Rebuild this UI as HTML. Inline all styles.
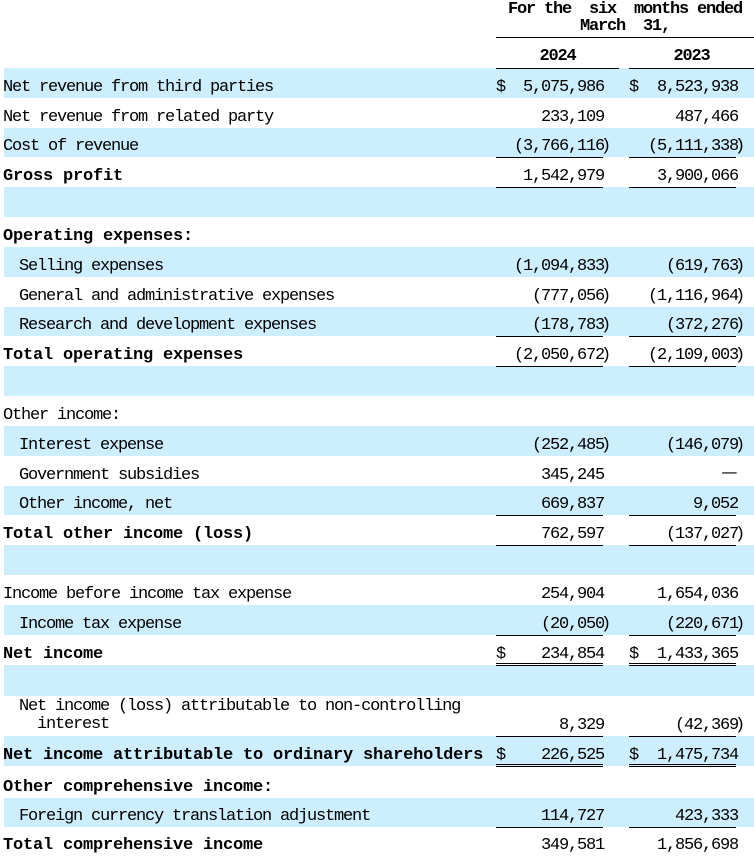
<!DOCTYPE html>
<html><head><meta charset="utf-8"><style>
html,body{margin:0;padding:0}
body{width:754px;height:856px;position:relative;overflow:hidden;background:#fff;font-family:"Liberation Mono","Noto Sans CJK SC",monospace;font-size:17px;letter-spacing:-1.2px;line-height:20px;color:#000}
.b{position:absolute;left:4px;right:0;background:#cceeff}
.t{position:absolute;white-space:pre}
.i{left:19px}
.o{left:3px}
.k{font-weight:bold;letter-spacing:-0.2px}
.l{position:absolute;height:1px;background:#000}
.c1{position:absolute;right:150px;white-space:pre;text-align:right}
.c2{position:absolute;right:16px;white-space:pre;text-align:right}
.p{margin-left:-3px;margin-right:-6px}
.d1{position:absolute;left:496px;white-space:pre}
.d2{position:absolute;left:629px;white-space:pre}
.h{position:absolute;white-space:pre;text-align:center;font-weight:bold;letter-spacing:-1.2px}
</style></head><body>

<!-- blue bands -->
<div class="b" style="top:68px;height:30px"></div>
<div class="b" style="top:128px;height:29px"></div>
<div class="b" style="top:187px;height:30px"></div>
<div class="b" style="top:247px;height:30px"></div>
<div class="b" style="top:307px;height:29px"></div>
<div class="b" style="top:366px;height:30px"></div>
<div class="b" style="top:426px;height:30px"></div>
<div class="b" style="top:486px;height:29px"></div>
<div class="b" style="top:545px;height:30px"></div>
<div class="b" style="top:605px;height:30px"></div>
<div class="b" style="top:665px;height:31px"></div>
<div class="b" style="top:736px;height:30px"></div>
<div class="b" style="top:798px;height:29px"></div>

<!-- header -->
<div class="h" style="left:496px;width:258px;top:-0.5px">For the  six  months ended</div>
<div class="h" style="left:496px;width:258px;top:16.5px">March  31,</div>
<div class="l" style="left:496px;width:258px;top:37px"></div>
<div class="h" style="left:496px;width:123px;top:46.5px">2024</div>
<div class="h" style="left:629px;width:125px;top:46.5px">2023</div>
<div class="l" style="left:496px;width:123px;top:68px"></div>
<div class="l" style="left:629px;width:125px;top:68px"></div>

<!-- rows -->
<div class="t o" style="top:77.5px">Net revenue from third parties</div>
<div class="d1" style="top:77.5px">$</div><div class="c1" style="top:77.5px">5,075,986</div>
<div class="d2" style="top:77.5px">$</div><div class="c2" style="top:77.5px">8,523,938</div>

<div class="t o" style="top:107.5px">Net revenue from related party</div>
<div class="c1" style="top:107.5px">233,109</div>
<div class="c2" style="top:107.5px">487,466</div>

<div class="t o" style="top:136.5px">Cost of revenue</div>
<div class="c1" style="top:136.5px">(3,766,116<span class="p">)</span></div>
<div class="c2" style="top:136.5px">(5,111,338<span class="p">)</span></div>

<div class="t o k" style="top:166.5px">Gross profit</div>
<div class="c1" style="top:166.5px">1,542,979</div>
<div class="c2" style="top:166.5px">3,900,066</div>

<div class="t o k" style="top:226.5px">Operating expenses:</div>

<div class="t i" style="top:256.5px">Selling expenses</div>
<div class="c1" style="top:256.5px">(1,094,833<span class="p">)</span></div>
<div class="c2" style="top:256.5px">(619,763<span class="p">)</span></div>

<div class="t i" style="top:286.5px">General and administrative expenses</div>
<div class="c1" style="top:286.5px">(777,056<span class="p">)</span></div>
<div class="c2" style="top:286.5px">(1,116,964<span class="p">)</span></div>

<div class="t i" style="top:315.5px">Research and development expenses</div>
<div class="c1" style="top:315.5px">(178,783<span class="p">)</span></div>
<div class="c2" style="top:315.5px">(372,276<span class="p">)</span></div>

<div class="t o k" style="top:345.5px">Total operating expenses</div>
<div class="c1" style="top:345.5px">(2,050,672<span class="p">)</span></div>
<div class="c2" style="top:345.5px">(2,109,003<span class="p">)</span></div>

<div class="t o" style="top:405.5px">Other income:</div>

<div class="t i" style="top:435.5px">Interest expense</div>
<div class="c1" style="top:435.5px">(252,485<span class="p">)</span></div>
<div class="c2" style="top:435.5px">(146,079<span class="p">)</span></div>

<div class="t i" style="top:465.5px">Government subsidies</div>
<div class="c1" style="top:465.5px">345,245</div>
<div class="t" style="left:724px;width:9px;text-align:center;top:463.5px;transform:scaleX(1.4);letter-spacing:0">—</div>

<div class="t i" style="top:494.5px">Other income, net</div>
<div class="c1" style="top:494.5px">669,837</div>
<div class="c2" style="top:494.5px">9,052</div>

<div class="t o k" style="top:524.5px">Total other income (loss)</div>
<div class="c1" style="top:524.5px">762,597</div>
<div class="c2" style="top:524.5px">(137,027<span class="p">)</span></div>

<div class="t o" style="top:584.5px">Income before income tax expense</div>
<div class="c1" style="top:584.5px">254,904</div>
<div class="c2" style="top:584.5px">1,654,036</div>

<div class="t i" style="top:614.5px">Income tax expense</div>
<div class="c1" style="top:614.5px">(20,050<span class="p">)</span></div>
<div class="c2" style="top:614.5px">(220,671<span class="p">)</span></div>

<div class="t o k" style="top:644.5px">Net income</div>
<div class="d1" style="top:644.5px">$</div><div class="c1" style="top:644.5px">234,854</div>
<div class="d2" style="top:644.5px">$</div><div class="c2" style="top:644.5px">1,433,365</div>

<div class="t i" style="top:696.5px">Net income (loss) attributable to non-controlling</div>
<div class="t" style="left:37px;top:714.5px">interest</div>
<div class="c1" style="top:715.5px">8,329</div>
<div class="c2" style="top:715.5px">(42,369<span class="p">)</span></div>

<div class="t o k" style="top:745.5px">Net income attributable to ordinary shareholders</div>
<div class="d1" style="top:745.5px">$</div><div class="c1" style="top:745.5px">226,525</div>
<div class="d2" style="top:745.5px">$</div><div class="c2" style="top:745.5px">1,475,734</div>

<div class="t o k" style="top:777.5px">Other comprehensive income:</div>

<div class="t i" style="top:806.5px">Foreign currency translation adjustment</div>
<div class="c1" style="top:806.5px">114,727</div>
<div class="c2" style="top:806.5px">423,333</div>

<div class="t o k" style="top:835.5px">Total comprehensive income</div>
<div class="c1" style="top:835.5px">349,581</div>
<div class="c2" style="top:835.5px">1,856,698</div>

<!-- underlines -->
<div class="l" style="left:496px;width:107px;top:157px"></div><div class="l" style="left:629px;width:107px;top:157px"></div>
<div class="l" style="left:496px;width:107px;top:187px"></div><div class="l" style="left:629px;width:107px;top:187px"></div>
<div class="l" style="left:496px;width:107px;top:336px"></div><div class="l" style="left:629px;width:107px;top:336px"></div>
<div class="l" style="left:496px;width:107px;top:366px"></div><div class="l" style="left:629px;width:107px;top:366px"></div>
<div class="l" style="left:496px;width:107px;top:515px"></div><div class="l" style="left:629px;width:107px;top:515px"></div>
<div class="l" style="left:496px;width:107px;top:545px"></div><div class="l" style="left:629px;width:107px;top:545px"></div>
<div class="l" style="left:496px;width:107px;top:635px"></div><div class="l" style="left:629px;width:107px;top:635px"></div>
<div class="l" style="left:496px;width:107px;top:663px"></div><div class="l" style="left:629px;width:107px;top:663px"></div>
<div class="l" style="left:496px;width:107px;top:665px"></div><div class="l" style="left:629px;width:107px;top:665px"></div>
<div class="l" style="left:496px;width:107px;top:736px"></div><div class="l" style="left:629px;width:107px;top:736px"></div>
<div class="l" style="left:496px;width:107px;top:764px"></div><div class="l" style="left:629px;width:107px;top:764px"></div>
<div class="l" style="left:496px;width:107px;top:766px"></div><div class="l" style="left:629px;width:107px;top:766px"></div>
<div class="l" style="left:496px;width:107px;top:827px"></div><div class="l" style="left:629px;width:107px;top:827px"></div>

</body></html>
